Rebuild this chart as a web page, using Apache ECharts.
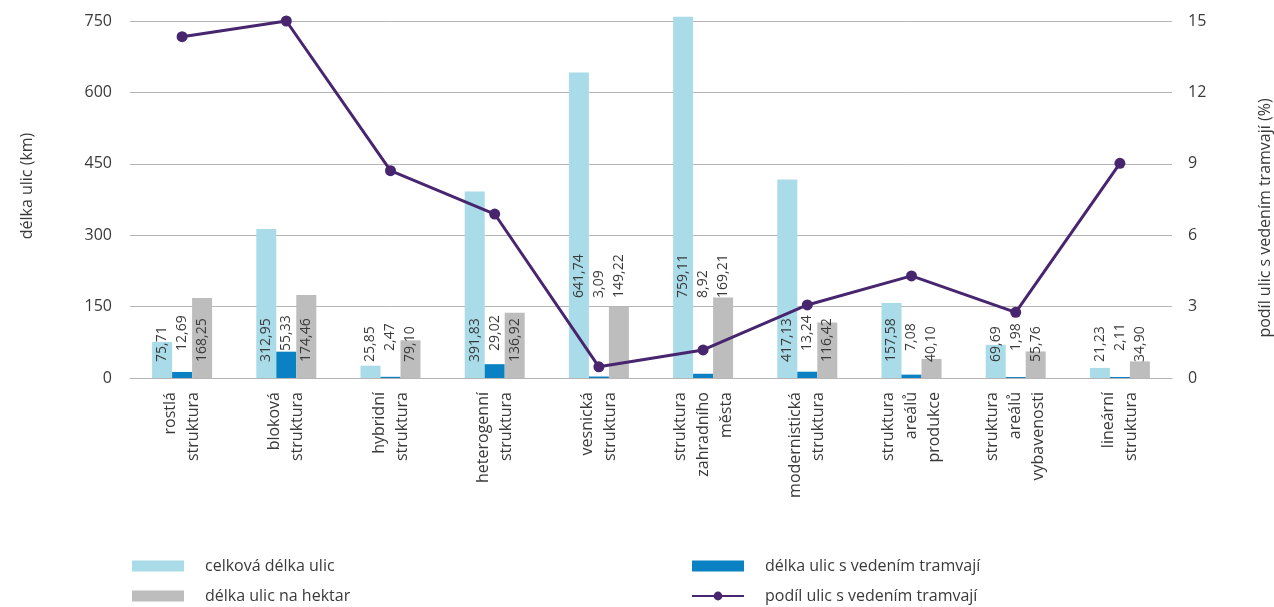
<!DOCTYPE html>
<html>
<head>
<meta charset="utf-8">
<script src="https://cdn.jsdelivr.net/npm/echarts@6/dist/echarts.min.js"></script>
<style>
  html, body { margin: 0; padding: 0; background: #ffffff; }
  #chart { width: 1274px; height: 607px; }
</style>
</head>
<body>
<div id="chart"></div>
<script>
// Urban structure types
const categories = [
  'rostlá\nstruktura',
  'bloková\nstruktura',
  'hybridní\nstruktura',
  'heterogenní\nstruktura',
  'vesnická\nstruktura',
  'struktura\nzahradního\nměsta',
  'modernistická\nstruktura',
  'struktura\nareálů\nprodukce',
  'struktura\nareálů\nvybavenosti',
  'lineární\nstruktura'
];

// Street lengths (km) and density (per hectare)
const totalLength = [75.71, 312.95, 25.85, 391.83, 641.74, 759.11, 417.13, 157.58, 69.69, 21.23];
const tramLength  = [12.69, 55.33, 2.47, 29.02, 3.09, 8.92, 13.24, 7.08, 1.98, 2.11];
const perHectare  = [168.25, 174.46, 79.10, 136.92, 149.22, 169.21, 116.42, 40.10, 55.76, 34.90];

// Share of streets carrying tram lines (%)
const tramShare   = [14.34, 15.0, 8.71, 6.89, 0.47, 1.18, 3.07, 4.29, 2.76, 9.02];

// Axis ticks
const leftTicks  = [0, 150, 300, 450, 600, 750];
const rightTicks = [0, 3, 6, 9, 12, 15];

const seriesNames = [
  'celková délka ulic',
  'délka ulic s vedením tramvají',
  'délka ulic na hektar',
  'podíl ulic s vedením tramvají'
];

const FONT = '"Open Sans", "Noto Sans", sans-serif';
const TEXT = '#3a3a3a';
const GRID = '#b5b5b5';
const COLORS = ['#a9dbe8', '#0a81c3', '#bdbdbd', '#47266f'];

// groups whose value labels sit higher, clear of the line
const raisedGroups = new Set([4, 5]);

const fmt = v => v.toFixed(2).replace('.', ',');

function barData(values, baseDistance) {
  return values.map((v, i) => ({
    value: v,
    label: { distance: raisedGroups.has(i) ? 80 : baseDistance }
  }));
}

function barSeries(name, values, color, baseDistance) {
  return {
    name: name,
    type: 'bar',
    yAxisIndex: 0,
    barWidth: 20,
    barGap: '0%',
    clip: false,
    itemStyle: { color: color },
    label: {
      show: true,
      position: 'insideBottom',
      rotate: 90,
      align: 'left',
      verticalAlign: 'middle',
      fontFamily: FONT,
      fontSize: 14,
      color: TEXT,
      formatter: p => fmt(p.value)
    },
    data: barData(values, baseDistance)
  };
}

const legendText = { fontFamily: FONT, fontSize: 16, color: TEXT, lineHeight: 20, padding: [0, 0, 0, 16] };

const chart = echarts.init(document.getElementById('chart'), null, { renderer: 'canvas' });

chart.setOption({
  animation: false,
  backgroundColor: '#ffffff',
  textStyle: { fontFamily: FONT },
  grid: { left: 130, right: 102, top: 21, bottom: 229, containLabel: false, outerBoundsMode: 'none' },
  legend: [
    {
      orient: 'vertical',
      left: 132,
      top: 556,
      padding: 0,
      itemWidth: 52,
      itemHeight: 11,
      itemGap: 10,
      icon: 'rect',
      data: [seriesNames[0], seriesNames[2]],
      textStyle: legendText
    },
    {
      orient: 'vertical',
      left: 691,
      top: 556,
      padding: 0,
      itemWidth: 52,
      itemHeight: 11,
      itemGap: 10,
      data: [{ name: seriesNames[1], icon: 'rect' }, { name: seriesNames[3] }],
      textStyle: legendText
    }
  ],
  xAxis: {
    type: 'category',
    data: categories,
    axisLine: { show: true, lineStyle: { color: GRID, width: 1 } },
    axisTick: { show: false },
    axisLabel: {
      rotate: 90,
      margin: 14,
      interval: 0,
      fontFamily: FONT,
      fontSize: 16,
      lineHeight: 23,
      color: TEXT
    }
  },
  yAxis: [
    {
      type: 'value',
      min: leftTicks[0],
      max: leftTicks[leftTicks.length - 1],
      interval: leftTicks[1] - leftTicks[0],
      name: 'délka ulic (km)',
      nameLocation: 'middle',
      nameRotate: 90,
      nameGap: 95,
      nameTextStyle: { fontFamily: FONT, fontSize: 16, color: TEXT, padding: [0, 0, 0, 27] },
      axisLine: { show: false },
      axisTick: { show: false },
      axisLabel: { margin: 18, fontFamily: FONT, fontSize: 16, color: TEXT },
      splitLine: { show: true, lineStyle: { color: GRID, width: 1 } }
    },
    {
      type: 'value',
      position: 'right',
      min: rightTicks[0],
      max: rightTicks[rightTicks.length - 1],
      interval: rightTicks[1] - rightTicks[0],
      name: 'podíl ulic s vedením tramvají (%)',
      nameLocation: 'middle',
      nameRotate: 90,
      nameGap: 85,
      nameTextStyle: { fontFamily: FONT, fontSize: 16, color: TEXT, padding: [0, 37, 0, 0] },
      axisLine: { show: false },
      axisTick: { show: false },
      axisLabel: { margin: 16, fontFamily: FONT, fontSize: 16, color: TEXT },
      splitLine: { show: false }
    }
  ],
  series: [
    barSeries(seriesNames[0], totalLength, COLORS[0], 16),
    barSeries(seriesNames[1], tramLength, COLORS[1], 27),
    barSeries(seriesNames[2], perHectare, COLORS[2], 16),
    {
      name: seriesNames[3],
      type: 'line',
      yAxisIndex: 1,
      z: 5,
      symbol: 'circle',
      symbolSize: 11,
      lineStyle: { color: COLORS[3], width: 3 },
      itemStyle: { color: COLORS[3] },
      data: tramShare
    }
  ]
});
</script>
</body>
</html>
